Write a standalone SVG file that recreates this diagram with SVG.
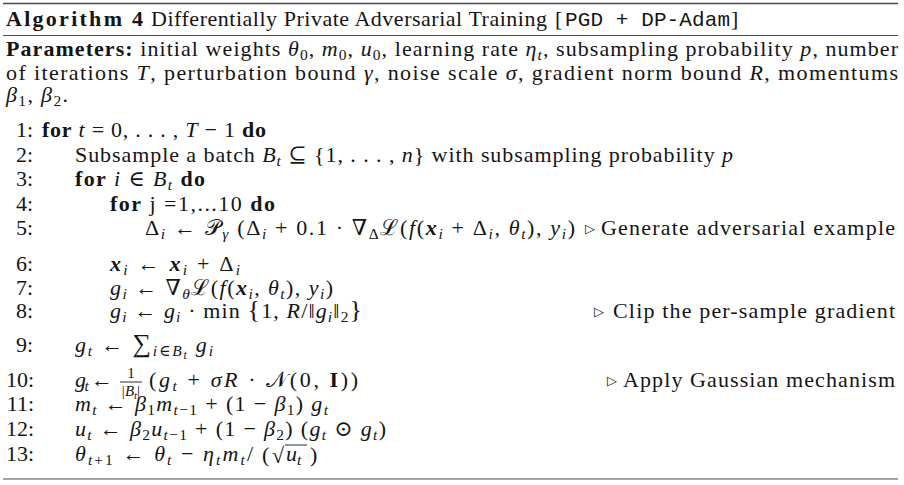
<svg xmlns="http://www.w3.org/2000/svg" width="904" height="485" viewBox="0 0 904 485">
<style>
text{font-family:"Liberation Serif","DejaVu Serif",serif;font-size:22px;fill:#151515}
.b{font-weight:bold}
.i{font-style:italic}
.bi{font-weight:bold;font-style:italic}
.m{font-family:"Liberation Mono","DejaVu Sans Mono",monospace;font-size:21px}
.s{font-size:15.5px;baseline-shift:-4px}
.si{font-size:15.5px;baseline-shift:-4px;font-style:italic}
.ss{font-size:11.5px;baseline-shift:-7px;font-style:italic}
.n{text-anchor:end}
.tri{font-size:13px}
.fr{font-size:15px;text-anchor:middle}
.rule{stroke:#4a4a4a}
.bar{stroke:#151515;stroke-width:0.9}
</style>
<rect width="904" height="485" fill="#fff"/>
<g id="rules">
<line class="rule" x1="3" y1="3.5" x2="898" y2="3.5" stroke-width="1.7"/>
<line class="rule" x1="3" y1="35.5" x2="898" y2="35.5" stroke-width="1.1"/>
<line class="rule" x1="3" y1="479" x2="898" y2="479" stroke-width="1.1"/>
</g>
<g id="title">
<text class="b" x="6" y="26" textLength="137" lengthAdjust="spacing">Algorithm 4</text>
<text x="151" y="26" textLength="396" lengthAdjust="spacing">Differentially Private Adversarial Training</text>
<text x="555" y="26">[</text>
<text class="m" x="565" y="26" textLength="165" lengthAdjust="spacing">PGD + DP-Adam</text>
<text x="731" y="26">]</text>
</g>
<g id="parameters">
<text x="6" y="56" textLength="892" lengthAdjust="spacing"><tspan class="b">Parameters:</tspan> initial weights <tspan class="i">θ</tspan><tspan class="s">0</tspan>, <tspan class="i">m</tspan><tspan class="s">0</tspan>, <tspan class="i">u</tspan><tspan class="s">0</tspan>, learning rate <tspan class="i">η</tspan><tspan class="si">t</tspan>, subsampling probability <tspan class="i">p</tspan>, number</text>
<text x="6" y="80" textLength="892" lengthAdjust="spacing">of iterations <tspan class="i">T</tspan>, perturbation bound <tspan class="i">γ</tspan>, noise scale <tspan class="i">σ</tspan>, gradient norm bound <tspan class="i">R</tspan>, momentums</text>
<text x="6" y="102" textLength="62" lengthAdjust="spacing"><tspan class="i">β</tspan><tspan class="s">1</tspan>, <tspan class="i">β</tspan><tspan class="s">2</tspan>.</text>
</g>
<g id="line-numbers">
<text class="n" x="33" y="137">1:</text>
<text class="n" x="33" y="162">2:</text>
<text class="n" x="33" y="186">3:</text>
<text class="n" x="33" y="211">4:</text>
<text class="n" x="33" y="235">5:</text>
<text class="n" x="33" y="271">6:</text>
<text class="n" x="33" y="295">7:</text>
<text class="n" x="33" y="318">8:</text>
<text class="n" x="33" y="352">9:</text>
<text class="n" x="34" y="387">10:</text>
<text class="n" x="34" y="411">11:</text>
<text class="n" x="34" y="436">12:</text>
<text class="n" x="34" y="461">13:</text>
</g>
<g id="l1"><text x="42" y="137" textLength="224" lengthAdjust="spacing"><tspan class="b">for</tspan> <tspan class="i">t</tspan> = 0, . . . , <tspan class="i">T</tspan> − 1 <tspan class="b">do</tspan></text></g>
<g id="l2"><text x="75" y="162" textLength="658" lengthAdjust="spacing">Subsample a batch <tspan class="i">B</tspan><tspan class="si">t</tspan> ⊆ {1, . . . , <tspan class="i">n</tspan>} with subsampling probability <tspan class="i">p</tspan></text></g>
<g id="l3"><text x="75" y="186" textLength="130" lengthAdjust="spacing"><tspan class="b">for</tspan> <tspan class="i">i</tspan> ∈ <tspan class="i">B</tspan><tspan class="si">t</tspan> <tspan class="b">do</tspan></text></g>
<g id="l4"><text x="110" y="211" textLength="165" lengthAdjust="spacing"><tspan class="b">for</tspan> j =1,...10 <tspan class="b">do</tspan></text></g>
<g id="l5">
<text x="145" y="235" textLength="430" lengthAdjust="spacing">Δ<tspan class="si">i</tspan> ← 𝒫<tspan class="si">γ</tspan> (Δ<tspan class="si">i</tspan> + 0.1 · ∇<tspan class="s">Δ</tspan>ℒ(<tspan class="i">f</tspan>(<tspan class="bi">x</tspan><tspan class="si">i</tspan> + Δ<tspan class="si">i</tspan>, <tspan class="i">θ</tspan><tspan class="si">t</tspan>), <tspan class="i">y</tspan><tspan class="si">i</tspan>)</text>
<text class="tri" x="585" y="233">▷</text>
<text x="601" y="235" textLength="294" lengthAdjust="spacing">Generate adversarial example</text>
</g>
<g id="l6"><text x="110" y="271" textLength="130" lengthAdjust="spacing"><tspan class="bi">x</tspan><tspan class="si">i</tspan> ← <tspan class="bi">x</tspan><tspan class="si">i</tspan> + Δ<tspan class="si">i</tspan></text></g>
<g id="l7"><text x="110" y="295" textLength="223" lengthAdjust="spacing"><tspan class="i">g</tspan><tspan class="si">i</tspan> ← ∇<tspan class="si">θ</tspan>ℒ(<tspan class="i">f</tspan>(<tspan class="bi">x</tspan><tspan class="si">i</tspan>, <tspan class="i">θ</tspan><tspan class="si">t</tspan>), <tspan class="i">y</tspan><tspan class="si">i</tspan>)</text></g>
<g id="l8">
<text x="110" y="318" textLength="252" lengthAdjust="spacing"><tspan class="i">g</tspan><tspan class="si">i</tspan> ← <tspan class="i">g</tspan><tspan class="si">i</tspan> · min <tspan font-size="26">{</tspan>1, <tspan class="i">R</tspan>/‖<tspan class="i">g</tspan><tspan class="si">i</tspan>‖<tspan class="s">2</tspan><tspan font-size="26">}</tspan></text>
<text class="tri" x="594" y="316">▷</text>
<text x="613" y="318" textLength="282" lengthAdjust="spacing">Clip the per-sample gradient</text>
</g>
<g id="l9"><text x="75" y="352" textLength="138" lengthAdjust="spacing"><tspan class="i">g</tspan><tspan class="si">t</tspan> ← <tspan font-size="26">∑</tspan><tspan class="si">i</tspan><tspan class="s">∈</tspan><tspan class="si">B</tspan><tspan class="ss">t</tspan> <tspan class="i">g</tspan><tspan class="si">i</tspan></text></g>
<g id="l10">
<text x="75" y="387" textLength="38" lengthAdjust="spacing"><tspan class="i">g</tspan><tspan class="si">t</tspan> ←</text>
<text class="fr" x="131" y="378">1</text>
<line class="bar" x1="120" y1="382" x2="142" y2="382"/>
<text class="fr" x="131" y="396">|<tspan font-style="italic">B</tspan><tspan font-size="11" font-style="italic" baseline-shift="-3">t</tspan>|</text>
<text x="149" y="387" textLength="209" lengthAdjust="spacing">(<tspan class="i">g</tspan><tspan class="si">t</tspan> + <tspan class="i">σR</tspan> · 𝒩(0, <tspan class="b">I</tspan>))</text>
<text class="tri" x="607" y="385">▷</text>
<text x="623" y="387" textLength="272" lengthAdjust="spacing">Apply Gaussian mechanism</text>
</g>
<g id="l11"><text x="75" y="411" textLength="253" lengthAdjust="spacing"><tspan class="i">m</tspan><tspan class="si">t</tspan> ← <tspan class="i">β</tspan><tspan class="s">1</tspan><tspan class="i">m</tspan><tspan class="si">t</tspan><tspan class="s">−1</tspan> + (1 − <tspan class="i">β</tspan><tspan class="s">1</tspan>) <tspan class="i">g</tspan><tspan class="si">t</tspan></text></g>
<g id="l12"><text x="75" y="436" textLength="311" lengthAdjust="spacing"><tspan class="i">u</tspan><tspan class="si">t</tspan> ← <tspan class="i">β</tspan><tspan class="s">2</tspan><tspan class="i">u</tspan><tspan class="si">t</tspan><tspan class="s">−1</tspan> + (1 − <tspan class="i">β</tspan><tspan class="s">2</tspan>) (<tspan class="i">g</tspan><tspan class="si">t</tspan> ⊙ <tspan class="i">g</tspan><tspan class="si">t</tspan>)</text></g>
<g id="l13">
<text x="75" y="461" textLength="178" lengthAdjust="spacing"><tspan class="i">θ</tspan><tspan class="si">t</tspan><tspan class="s">+1</tspan> ← <tspan class="i">θ</tspan><tspan class="si">t</tspan> − <tspan class="i">η</tspan><tspan class="si">t</tspan><tspan class="i">m</tspan><tspan class="si">t</tspan>/</text>
<text x="262" y="462" font-size="26">(</text>
<text x="272" y="463" font-size="22">√</text>
<line class="bar" x1="285" y1="445" x2="307" y2="445"/>
<text x="286" y="461"><tspan class="i">u</tspan><tspan class="si">t</tspan></text>
<text x="310" y="462" font-size="26">)</text>
</g>
</svg>
